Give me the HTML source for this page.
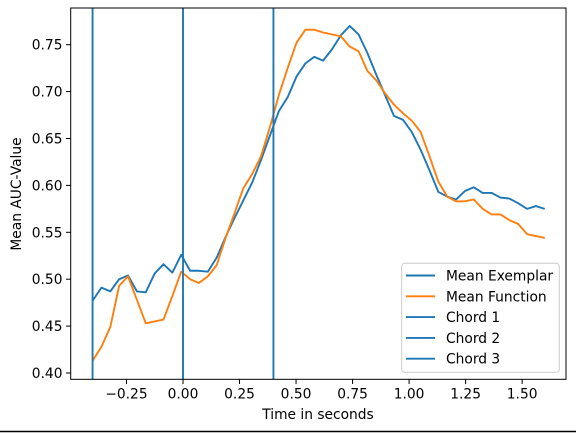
<!DOCTYPE html>
<html><head><meta charset="utf-8"><style>
html,body{margin:0;padding:0;background:#fff}
svg{display:block;font-family:"DejaVu Sans","Liberation Sans",sans-serif}
</style></head><body>
<svg id="chart" width="576" height="433" viewBox="0 0 576 433">
<rect x="0" y="0" width="576" height="433" fill="#fff"/>
<line x1="0" y1="431.5" x2="576" y2="431.5" stroke="#000" stroke-width="1.5"/>
<g id="marks"></g>
<rect x="70.7" y="8" width="495.3" height="371.3" fill="none" stroke="#000" stroke-width="1"/>
<g id="xticks"></g>
<g id="yticks"></g>
<text x="318" y="419" font-size="13.8" text-anchor="middle">Time in seconds</text>
<text transform="translate(21,194) rotate(-90)" font-size="13.8" text-anchor="middle">Mean AUC-Value</text>
<g id="legend"></g>
</svg>
<script>
const blueVals=[0.477,0.491,0.487,0.500,0.504,0.487,0.486,0.506,0.516,0.507,0.526,0.509,0.509,0.508,0.523,0.545,0.565,0.584,0.603,0.627,0.653,0.679,0.694,0.716,0.730,0.737,0.733,0.745,0.760,0.770,0.761,0.741,0.718,0.696,0.674,0.670,0.657,0.638,0.616,0.593,0.588,0.585,0.594,0.598,0.592,0.592,0.587,0.586,0.581,0.575,0.578,0.575];
const orangeVals=[0.413,0.428,0.449,0.493,0.503,0.478,0.453,0.455,0.457,0.482,0.508,0.500,0.496,0.503,0.515,0.544,0.570,0.597,0.612,0.631,0.662,0.696,0.725,0.752,0.766,0.766,0.763,0.761,0.759,0.748,0.743,0.722,0.712,0.698,0.686,0.677,0.669,0.657,0.631,0.604,0.588,0.583,0.583,0.585,0.575,0.569,0.569,0.563,0.559,0.548,0.546,0.544];
const tStart=-0.4, tEnd=1.6;
const chordTimes=[-0.4,0.0,0.4];
const xTickVals=[-0.25,0,0.25,0.5,0.75,1.0,1.25,1.5];
const xTickLabels=["\u22120.25","0.00","0.25","0.50","0.75","1.00","1.25","1.50"];
const yTickVals=[0.40,0.45,0.50,0.55,0.60,0.65,0.70,0.75];
const yTickLabels=["0.40","0.45","0.50","0.55","0.60","0.65","0.70","0.75"];
const legendLabels=["Mean Exemplar","Mean Function","Chord 1","Chord 2","Chord 3"];
const legendColors=["#1f77b4","#ff7f0e","#1f77b4","#1f77b4","#1f77b4"];

const NS="http://www.w3.org/2000/svg";
const X=t=>183+t*226.1;
const Y=v=>373-(v-0.40)*938;
function mk(tag,attrs,parent){const e=document.createElementNS(NS,tag);for(const k in attrs)e.setAttribute(k,attrs[k]);parent.appendChild(e);return e;}
const marks=document.getElementById('marks');
function series(vals,color,name){
  const n=vals.length;
  const pts=vals.map((v,i)=>X(tStart+i*(tEnd-tStart)/(n-1)).toFixed(2)+','+Y(v).toFixed(2)).join(' ');
  const p=mk('polyline',{points:pts,fill:'none',stroke:color,'stroke-width':1.9,'stroke-linejoin':'round'},marks);
  
  
}
series(blueVals,'#1f77b4','mean-exemplar-line');
series(orangeVals,'#ff7f0e','mean-function-line');
chordTimes.forEach((t,i)=>{
  const l=mk('line',{x1:X(t),x2:X(t),y1:8,y2:379.3,stroke:'#1f77b4','stroke-width':1.9},marks);
  
  
});
const xg=document.getElementById('xticks');
xTickVals.forEach((t,i)=>{
  const x=X(t);
  mk('line',{x1:x,x2:x,y1:379.3,y2:384,stroke:'#000','stroke-width':1},xg);
  const tx=mk('text',{x:x,y:398.5,'font-size':13.8,'text-anchor':'middle'},xg);
  tx.textContent=xTickLabels[i];
  
  
});
const yg=document.getElementById('yticks');
yTickVals.forEach((v,i)=>{
  const y=Y(v);
  mk('line',{x1:66,x2:70.7,y1:y,y2:y,stroke:'#000','stroke-width':1},yg);
  const tx=mk('text',{x:62.5,y:y+5,'font-size':13.8,'text-anchor':'end'},yg);
  tx.textContent=yTickLabels[i];
  
  
});
const lg=document.getElementById('legend');
mk('rect',{x:401.7,y:263.3,width:157.6,height:109,rx:3,fill:'#fff','fill-opacity':0.8,stroke:'#ccc','stroke-width':1},lg);
legendLabels.forEach((lab,i)=>{
  const y=275.5+i*20.8;
  const g=mk('g',{},lg);
  
  
  mk('line',{x1:406,x2:435,y1:y,y2:y,stroke:legendColors[i],'stroke-width':1.9},g);
  const tx=mk('text',{x:446,y:y+5,'font-size':13.8},g);
  tx.textContent=lab;
});
</script>
</body></html>
